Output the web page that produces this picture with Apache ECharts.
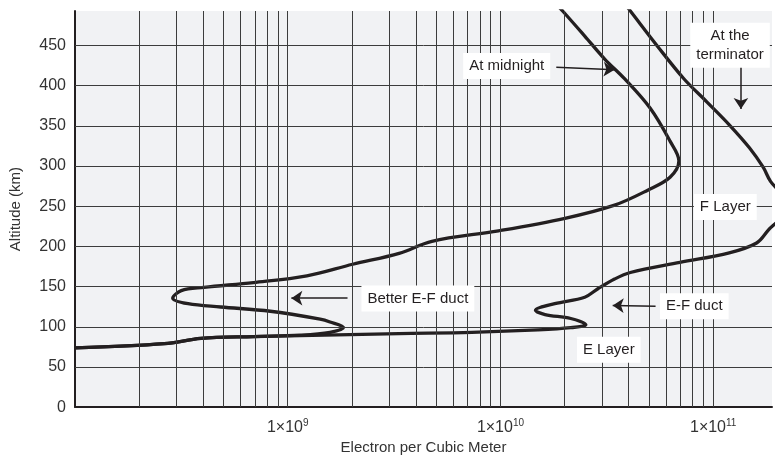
<!DOCTYPE html>
<html>
<head>
<meta charset="utf-8">
<script src="https://cdn.jsdelivr.net/npm/echarts@6/dist/echarts.min.js"></script>
<style>
  html, body { margin: 0; padding: 0; background: #ffffff; }
  #chart { width: 775px; height: 460px; }
</style>
</head>
<body>
<div id="chart"></div>
<script>
// ---- Data ----
// "At midnight" profile: electron density (per m^3) and altitude (km)
const midnightDensity = [1.00e8, 2.63e8, 3.91e8, 6.90e8, 1.14e9, 1.58e9, 1.83e9, 1.58e9, 1.42e9, 8.28e8, 4.84e8, 3.40e8, 2.88e8, 3.16e8, 4.04e8, 6.90e8, 1.23e9, 2.02e9, 3.34e9, 4.76e9, 9.79e9, 2.01e10, 3.44e10, 4.90e10, 6.27e10, 6.90e10, 6.27e10, 5.06e10, 3.83e10, 3.09e10, 2.49e10, 1.97e10, 1.85e10];
const midnightAltitude = [73.6, 79, 85.5, 87.8, 89.5, 93, 99, 106, 109.5, 119.3, 124.6, 128.7, 135.6, 145, 149, 155, 163.4, 177.8, 191.3, 206.4, 219.4, 235, 251.4, 269.7, 286, 306.5, 331, 371.9, 408.7, 433.2, 461.8, 492.4, 500];

// "At the terminator" profile
const terminatorDensity = [1.00e8, 2.63e8, 3.91e8, 6.90e8, 1.14e9, 3.34e9, 7.33e9, 1.50e10, 2.14e10, 2.52e10, 2.14e10, 1.62e10, 1.46e10, 1.80e10, 2.49e10, 2.86e10, 3.44e10, 4.08e10, 6.98e10, 1.19e11, 1.60e11, 1.82e11, 2.30e11, 1.86e11, 1.72e11, 1.48e11, 1.19e11, 9.33e10, 7.28e10, 5.46e10, 4.08e10, 3.89e10];
const terminatorAltitude = [73.6, 79, 85.5, 87.8, 89, 91.5, 93, 96, 98.8, 102.5, 110.3, 115.2, 120.5, 128.7, 136.8, 147, 159.4, 167.5, 180, 192, 204.3, 220.7, 250, 281, 298.3, 322.8, 351.4, 380, 408.7, 449.5, 493, 500];

// Axis ticks
const xTickValues = [1e9, 1e10, 1e11];
const xTickExponents = ['9', '10', '11'];
const yTickValues = [50, 100, 150, 200, 250, 300, 350, 400, 450];
const xDecades = [1e8, 1e9, 1e10, 1e11];

// Annotations: text, density, altitude
const annotationTexts = ['At midnight', 'At the\nterminator', 'F Layer', 'Better E-F duct', 'E-F duct', 'E Layer'];
const annotationDensity = [1.07e10, 1.20e11, 1.14e11, 4.09e9, 8.15e10, 3.23e10];
const annotationAltitude = [424.6, 450.3, 249.2, 135.2, 125.4, 71.5];

// Arrows: [fromDensity, fromAltitude, toDensity, toAltitude]
const arrowFromDensity = [1.83e10, 1.35e11, 1.91e9, 5.36e10];
const arrowFromAltitude = [423, 427, 135.6, 125.5];
const arrowToDensity = [3.44e10, 1.35e11, 1.04e9, 3.37e10];
const arrowToAltitude = [420, 371, 135.6, 126.5];

// ---- Build ----
const xGridLines = [];
xDecades.forEach(d => { for (let k = 1; k <= 9; k++) { const v = d * k; if (v > 1e8 && v < 1.89e11) xGridLines.push(v); } });

const zip = (a, b) => a.map((v, i) => [v, b[i]]);
const ink = '#231f20';
const font = 'Liberation Sans, Arial, Helvetica, sans-serif';

const chart = echarts.init(document.getElementById('chart'), null, { renderer: 'canvas' });

chart.setOption({
  animation: false,
  backgroundColor: '#ffffff',
  textStyle: { fontFamily: font },
  grid: { left: 74, right: 0, top: 11, bottom: 47, show: true, backgroundColor: '#f1f2f4', borderWidth: 0 },
  xAxis: {
    type: 'log', logBase: 10, min: 1e8, max: 1.89e11,
    name: 'Electron per Cubic Meter', nameLocation: 'middle', nameGap: 26,
    nameTextStyle: { fontSize: 15, color: '#333', fontFamily: font },
    axisLine: { show: true, lineStyle: { color: ink, width: 2 } },
    axisTick: { show: false },
    splitLine: { show: false },
    axisLabel: {
      margin: 11,
      color: '#333',
      formatter: function (v) {
        const i = xTickValues.findIndex(t => Math.abs(v / t - 1) < 1e-6);
        return i < 0 ? '' : '{b|1×10}{s|' + xTickExponents[i] + '}';
      },
      rich: {
        b: { fontSize: 16, fontFamily: font, color: '#333', lineHeight: 18 },
        s: { fontSize: 10, fontFamily: font, color: '#333', verticalAlign: 'top', lineHeight: 12 }
      }
    }
  },
  yAxis: {
    type: 'value', min: 0, max: 493, interval: 50,
    name: 'Altitude (km)', nameLocation: 'middle', nameGap: 52, nameRotate: 90,
    nameTextStyle: { fontSize: 15, color: '#333', fontFamily: font },
    axisLine: { show: true, lineStyle: { color: ink, width: 2 } },
    axisTick: { show: false },
    splitLine: { show: false },
    axisLabel: {
      margin: 9, fontSize: 16, color: '#333', fontFamily: font,
      formatter: v => (v % 50 === 0 ? String(v) : '')
    }
  },
  series: [
    {
      name: 'grid', type: 'line', data: [], z: 1, silent: true,
      markLine: {
        silent: true, symbol: 'none', animation: false,
        label: { show: false },
        lineStyle: { color: '#3c3c3c', width: 1, type: 'solid' },
        data: xGridLines.map(v => ({ xAxis: v })).concat(yTickValues.map(v => ({ yAxis: v })))
      }
    },
    {
      name: 'At midnight', type: 'line', z: 3,
      data: zip(midnightDensity, midnightAltitude),
      smooth: 0.35, showSymbol: false, symbol: 'none',
      lineStyle: { color: ink, width: 3.3 }
    },
    {
      name: 'At the terminator', type: 'line', z: 3,
      data: zip(terminatorDensity, terminatorAltitude),
      smooth: 0.35, showSymbol: false, symbol: 'none',
      lineStyle: { color: ink, width: 3.3 }
    },
    {
      name: 'annotations', type: 'line', data: [], z: 5, silent: true,
      markLine: {
        silent: true, animation: false,
        symbol: ['none', 'arrow'], symbolSize: 11,
        label: { show: false },
        lineStyle: { color: ink, width: 1.5, type: 'solid' },
        data: arrowFromDensity.map((d, i) => [
          { coord: [d, arrowFromAltitude[i]] },
          { coord: [arrowToDensity[i], arrowToAltitude[i]] }
        ])
      },
      markPoint: {
        silent: true, animation: false,
        symbol: 'rect', symbolSize: 0,
        data: annotationTexts.map((t, i) => ({
          coord: [annotationDensity[i], annotationAltitude[i]],
          label: {
            show: true, position: 'inside', formatter: t,
            fontSize: 15, lineHeight: 19, color: ink, fontFamily: font,
            backgroundColor: '#ffffff', padding: [4, 6, 3, 6], align: 'center'
          }
        }))
      }
    }
  ]
});
</script>
</body>
</html>
